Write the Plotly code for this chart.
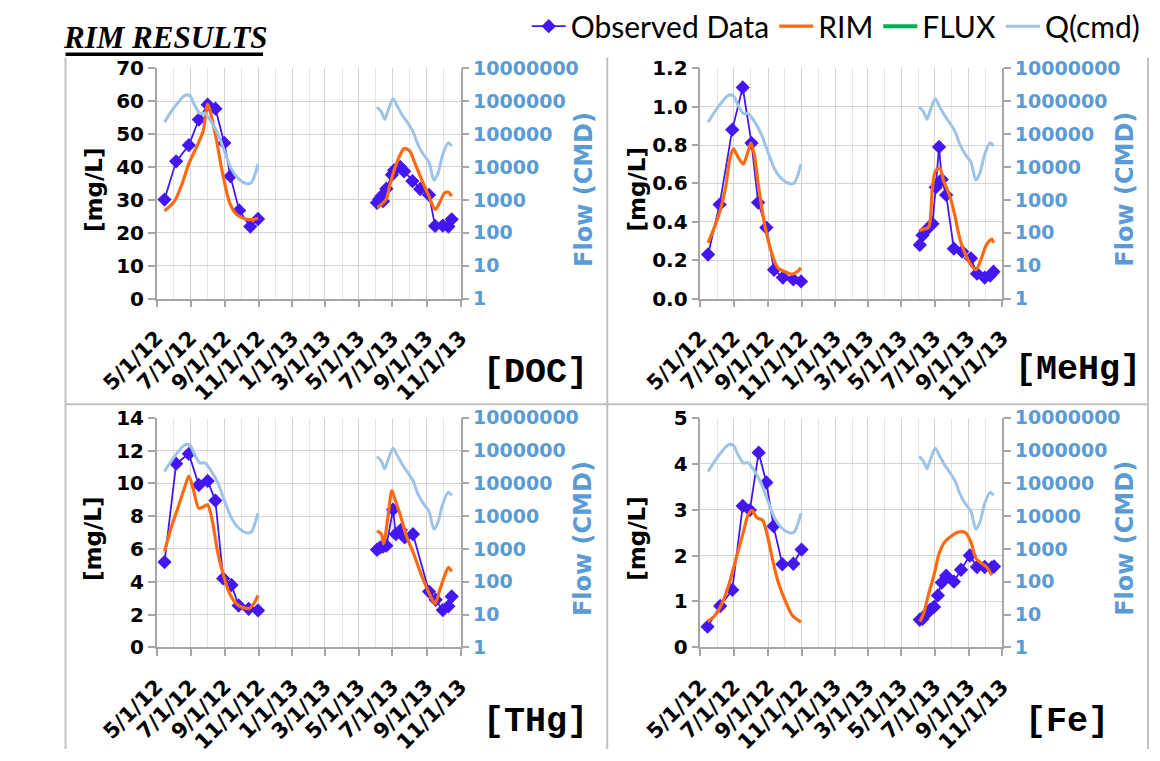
import plotly.graph_objects as go

W, H = 1160, 761

# ---------------------------------------------------------------------------
# Data
# ---------------------------------------------------------------------------
# Flow record (cubic metres per day), shared by all four panels
Q_DATES = ["2012-05-15", "2012-06-02", "2012-06-21", "2012-06-30", "2012-07-08", "2012-07-18",
           "2012-07-27", "2012-08-06", "2012-08-19", "2012-08-31", "2012-09-13", "2012-09-25",
           "2012-10-08", "2012-10-18", "2012-10-24", "2012-10-31", None,
           "2013-06-03", "2013-06-11", "2013-06-17", "2013-06-23", "2013-07-02", "2013-07-09",
           "2013-07-19", "2013-07-29", "2013-08-07", "2013-08-16", "2013-08-26", "2013-09-05",
           "2013-09-14", "2013-09-21", "2013-09-30", "2013-10-10", "2013-10-16"]
Q_CMD = [2.3e5, 6.6e5, 1.5e6, 1.45e6, 7.8e5, 4.2e5,
         4.2e5, 2.6e5, 1.07e5, 3.1e4, 8.7e3, 4.5e3,
         3.2e3, 3.2e3, 5.0e3, 1.23e4, None,
         6.6e5, 4.7e5, 2.8e5, 5.2e5, 1.17e6, 7.4e5,
         3.7e5, 2.1e5, 1.2e5, 4.8e4, 2.4e4, 1.4e4,
         4.0e3, 6.3e3, 2.4e4, 5.4e4, 4.3e4]

# DOC
DOC_OBS_DATES = ["2012-05-15", "2012-06-05", "2012-06-28", "2012-07-16", "2012-08-01", "2012-08-15",
                 "2012-08-31", "2012-09-11", "2012-09-27", "2012-10-17", "2012-10-31", None,
                 "2013-06-03", "2013-06-07", "2013-06-11", "2013-06-14", "2013-06-20", "2013-06-30",
                 "2013-07-04", "2013-07-15", "2013-07-22", "2013-08-06", "2013-08-20", "2013-09-05",
                 "2013-09-16", "2013-09-30", "2013-10-10", "2013-10-16"]
DOC_OBS = [30.1, 41.7, 46.6, 54.4, 58.9, 57.7, 47.3, 37.2, 26.8, 21.9, 24.2, None,
           29.1, 30.2, 31.1, 29.6, 33.4, 37.6, 39.0, 40.0, 38.7, 35.7, 33.3, 31.5,
           22.1, 22.2, 21.9, 24.1]
DOC_RIM_DATES = ["2012-05-15", "2012-06-02", "2012-06-15", "2012-06-28", "2012-07-14", "2012-07-24",
                 "2012-08-01", "2012-08-15", "2012-08-28", "2012-09-10", "2012-09-22", "2012-10-08",
                 "2012-10-21", "2012-10-31", None,
                 "2013-06-04", "2013-06-14", "2013-06-20", "2013-06-27", "2013-07-06", "2013-07-16",
                 "2013-07-22", "2013-08-01", "2013-08-10", "2013-08-23", "2013-09-05", "2013-09-16",
                 "2013-09-24", "2013-10-03", "2013-10-10", "2013-10-16"]
DOC_RIM = [26.6, 29.6, 34.5, 41.0, 46.8, 51.0, 59.0, 49.8, 38.0, 29.0, 25.6, 24.2, 24.0, 24.4, None,
           27.6, 29.1, 30.3, 35.0, 40.0, 44.1, 45.6, 44.9, 41.4, 36.0, 31.1, 27.1,
           29.1, 32.1, 32.3, 31.1]

# MeHg
MEHG_OBS_DATES = ["2012-05-15", "2012-06-05", "2012-06-28", "2012-07-17", "2012-08-02", "2012-08-14",
                  "2012-08-29", "2012-09-12", "2012-09-28", "2012-10-17", "2012-10-31", None,
                  "2013-06-04", "2013-06-09", "2013-06-15", "2013-06-27", "2013-07-03", "2013-07-09",
                  "2013-07-14", "2013-07-22", "2013-08-05", "2013-08-20", "2013-09-05", "2013-09-16",
                  "2013-09-30", "2013-10-10", "2013-10-16"]
MEHG_OBS = [0.23, 0.49, 0.88, 1.10, 0.81, 0.50, 0.37, 0.15, 0.11, 0.10, 0.09, None,
            0.28, 0.33, 0.355, 0.39, 0.58, 0.79, 0.62, 0.54, 0.26, 0.245, 0.21, 0.13,
            0.11, 0.12, 0.14]
MEHG_RIM_DATES = ["2012-05-15", "2012-06-03", "2012-06-16", "2012-06-23", "2012-06-30", "2012-07-08",
                  "2012-07-18", "2012-07-25", "2012-08-01", "2012-08-07", "2012-08-15", "2012-08-25",
                  "2012-09-07", "2012-09-19", "2012-10-02", "2012-10-15", "2012-10-24", "2012-10-31", None,
                  "2013-06-04", "2013-06-12", "2013-06-20", "2013-06-27", "2013-07-03", "2013-07-11",
                  "2013-07-17", "2013-07-29", "2013-08-07", "2013-08-17", "2013-09-02", "2013-09-14",
                  "2013-09-24", "2013-10-03", "2013-10-13", "2013-10-16"]
MEHG_RIM = [0.29, 0.43, 0.58, 0.72, 0.78, 0.74, 0.70, 0.75, 0.81, 0.75, 0.58, 0.40,
            0.245, 0.16, 0.14, 0.127, 0.14, 0.16, None,
            0.355, 0.363, 0.372, 0.58, 0.667, 0.676, 0.617, 0.53, 0.43, 0.30, 0.19, 0.15,
            0.21, 0.28, 0.31, 0.29]

# THg
THG_OBS_DATES = ["2012-05-15", "2012-06-05", "2012-06-28", "2012-07-16", "2012-08-01", "2012-08-15",
                 "2012-08-29", "2012-09-13", "2012-09-26", "2012-10-14", "2012-10-31", None,
                 "2013-06-03", "2013-06-09", "2013-06-14", "2013-06-20", "2013-07-02", "2013-07-07",
                 "2013-07-16", "2013-07-23", "2013-08-07", "2013-09-05", "2013-09-17", "2013-09-30",
                 "2013-10-10", "2013-10-16"]
THG_OBS = [5.2, 11.2, 11.8, 9.9, 10.15, 8.95, 4.2, 3.8, 2.55, 2.35, 2.25, None,
           5.95, 6.1, 6.15, 6.2, 8.4, 6.9, 7.15, 6.7, 6.9, 3.4, 2.9, 2.27,
           2.5, 3.1]
THG_RIM_DATES = ["2012-05-15", "2012-05-28", "2012-06-09", "2012-06-22", "2012-06-28", "2012-07-06",
                 "2012-07-16", "2012-07-24", "2012-08-01", "2012-08-09", "2012-08-19", "2012-08-30",
                 "2012-09-10", "2012-09-22", "2012-10-05", "2012-10-15", "2012-10-24", "2012-10-31", None,
                 "2013-06-03", "2013-06-11", "2013-06-15", "2013-06-23", "2013-06-30", "2013-07-06",
                 "2013-07-15", "2013-07-26", "2013-08-07", "2013-08-23", "2013-09-06", "2013-09-16",
                 "2013-09-24", "2013-10-03", "2013-10-10", "2013-10-16"]
THG_RIM = [5.86, 7.4, 8.58, 9.92, 10.45, 9.66, 8.48, 8.58, 8.68, 7.79, 5.82, 4.34,
           3.25, 2.66, 2.41, 2.37, 2.7, 3.16, None,
           7.1, 6.9, 6.31, 7.99, 9.56, 8.97, 8.09, 6.8, 5.82, 4.34, 3.25, 2.66,
           3.45, 4.34, 4.87, 4.63]

# Fe
FE_OBS_DATES = ["2012-05-14", "2012-06-06", "2012-06-28", "2012-07-17", "2012-07-30", "2012-08-15",
                "2012-08-29", "2012-09-11", "2012-09-27", "2012-10-17", "2012-11-01", None,
                "2013-06-04", "2013-06-09", "2013-06-17", "2013-06-23", "2013-06-30", "2013-07-07",
                "2013-07-14", "2013-07-22", "2013-08-05", "2013-08-18", "2013-09-03", "2013-09-16",
                "2013-09-30", "2013-10-13", "2013-10-17"]
FE_OBS = [0.45, 0.90, 1.25, 3.08, 2.99, 4.24, 3.59, 2.64, 1.81, 1.82, 2.13, None,
          0.60, 0.62, 0.74, 0.82, 0.88, 1.13, 1.41, 1.56, 1.43, 1.69, 2.0, 1.75,
          1.75, 1.74, 1.76]
FE_RIM_DATES = ["2012-05-14", "2012-05-28", "2012-06-09", "2012-06-22", "2012-07-05", "2012-07-18",
                "2012-07-27", "2012-08-03", "2012-08-12", "2012-08-22", "2012-08-31", "2012-09-10",
                "2012-09-19", "2012-10-02", "2012-10-15", "2012-10-31", None,
                "2013-06-04", "2013-06-11", "2013-06-20", "2013-06-30", "2013-07-09", "2013-07-19",
                "2013-08-01", "2013-08-13", "2013-08-26", "2013-09-05", "2013-09-14", "2013-09-24",
                "2013-10-03", "2013-10-13"]
FE_RIM = [0.56, 0.70, 0.95, 1.37, 1.94, 2.5, 2.89, 2.98, 2.82, 2.77, 2.43, 1.87,
          1.44, 1.02, 0.70, 0.55, None,
          0.56, 0.74, 1.16, 1.58, 2.04, 2.29, 2.43, 2.51, 2.5, 2.29, 1.94, 1.83,
          1.76, 1.57]

# Axis tick labels
FLOW_TICKVALS = [1, 10, 100, 1000, 10000, 100000, 1000000, 10000000]
FLOW_TICKTEXT = ["1", "10", "100", "1000", "10000", "100000", "1000000", "10000000"]
DATE_RANGE = ["2012-05-01", "2013-11-01"]

LEGEND_NAMES = ["Observed Data", "RIM", "FLUX", "Q(cmd)"]

# ---------------------------------------------------------------------------
# Styling
# ---------------------------------------------------------------------------
OBS_COLOR = "#4416F2"
RIM_COLOR = "#FF6A10"
FLUX_COLOR = "#00B050"
Q_COLOR = "#9DC3E6"
FLOW_TEXT = "#5B9BD5"
AXIS_COLOR = "#A6A6A6"
GRID_COLOR = "#D4D4D4"
GRID_MINOR = "#E6E6E6"
BORDER = "#C0C0C0"
TICK_FONT = dict(family="DejaVu Sans", size=20, color="black", weight="bold")
DATE_FONT = dict(family="DejaVu Sans", size=21, color="black", weight="bold")


def px(x):
    return x / W


def py(y):
    return 1 - y / H


# plot areas in pixels: (left, right, top, bottom)
PANELS = [
    dict(label="[DOC]", obs=(DOC_OBS_DATES, DOC_OBS), rim=(DOC_RIM_DATES, DOC_RIM),
         yr=[0, 70], dt=10, fmt="d", box=(105, 428, 58, 296), lab=(508, 373)),
    dict(label="[MeHg]", obs=(MEHG_OBS_DATES, MEHG_OBS), rim=(MEHG_RIM_DATES, MEHG_RIM),
         yr=[0, 1.2], dt=0.2, fmt=".1f", box=(683, 1004, 58, 296), lab=(1085, 370)),
    dict(label="[THg]", obs=(THG_OBS_DATES, THG_OBS), rim=(THG_RIM_DATES, THG_RIM),
         yr=[0, 14], dt=2, fmt="d", box=(105, 428, 419, 656), lab=(508, 733)),
    dict(label="[Fe]", obs=(FE_OBS_DATES, FE_OBS), rim=(FE_RIM_DATES, FE_RIM),
         yr=[0, 5], dt=1, fmt="d", box=(683, 1004, 419, 656), lab=(1073, 733)),
]

fig = go.Figure()
annotations = []
shapes = []

for i, p in enumerate(PANELS):
    xid = "x" if i == 0 else f"x{i + 1}"
    yid = "y" if i == 0 else f"y{2 * i + 1}"
    y2id = f"y{2 * i + 2}"
    first = i == 0

    fig.add_trace(go.Scatter(
        x=p["obs"][0], y=p["obs"][1], name=LEGEND_NAMES[0], legendgroup="obs",
        showlegend=first, mode="lines+markers", xaxis=xid, yaxis=yid,
        line=dict(color=OBS_COLOR, width=1.8),
        marker=dict(symbol="diamond", size=11, color=OBS_COLOR)))
    fig.add_trace(go.Scatter(
        x=p["rim"][0], y=p["rim"][1], name=LEGEND_NAMES[1], legendgroup="rim",
        showlegend=first, mode="lines", xaxis=xid, yaxis=yid,
        line=dict(color=RIM_COLOR, width=3.2, shape="spline", smoothing=0.8)))
    if first:
        fig.add_trace(go.Scatter(
            x=[None], y=[None], name=LEGEND_NAMES[2], legendgroup="flux",
            mode="lines", xaxis=xid, yaxis=yid,
            line=dict(color=FLUX_COLOR, width=4)))
    fig.add_trace(go.Scatter(
        x=Q_DATES, y=Q_CMD, name=LEGEND_NAMES[3], legendgroup="q",
        showlegend=first, mode="lines", xaxis=xid, yaxis=y2id,
        line=dict(color=Q_COLOR, width=3, shape="spline", smoothing=0.8)))

    left, right, top, bottom = p["box"]
    xdom = [px(left), px(right)]
    ydom = [py(bottom), py(top)]

    xkey = "xaxis" if i == 0 else f"xaxis{i + 1}"
    ykey = "yaxis" if i == 0 else f"yaxis{2 * i + 1}"
    y2key = f"yaxis{2 * i + 2}"

    fig.layout[xkey] = dict(
        domain=xdom, anchor=yid, type="date", range=DATE_RANGE,
        tick0="2012-05-01", dtick="M2", tickformat="%-m/%-d/%y", tickangle=-45,
        showline=True, linecolor=AXIS_COLOR, linewidth=1.5,
        ticks="outside", ticklen=7, tickcolor=AXIS_COLOR, tickwidth=1.5,
        ticklabelstandoff=10,
        showgrid=True, gridcolor=GRID_COLOR, gridwidth=1,
        minor=dict(dtick="M1", showgrid=True, gridcolor=GRID_MINOR, gridwidth=1, ticks=""),
        tickfont=DATE_FONT, zeroline=False, fixedrange=True)
    fig.layout[ykey] = dict(
        domain=ydom, anchor=xid, range=p["yr"], dtick=p["dt"], tick0=0,
        tickformat=p["fmt"], showline=True, linecolor=AXIS_COLOR, linewidth=1.5,
        ticks="outside", ticklen=7, tickcolor=AXIS_COLOR, tickwidth=1.5,
        showgrid=True, gridcolor=GRID_COLOR, gridwidth=1, zeroline=False,
        tickfont=TICK_FONT, fixedrange=True)
    fig.layout[y2key] = dict(
        overlaying=yid, anchor=xid, side="right", type="log", range=[0, 7],
        tickvals=FLOW_TICKVALS, ticktext=FLOW_TICKTEXT,
        showline=True, linecolor=AXIS_COLOR, linewidth=1.5,
        ticks="outside", ticklen=7, tickcolor=AXIS_COLOR, tickwidth=1.5,
        showgrid=False, zeroline=False,
        tickfont=dict(family="DejaVu Sans", size=19, color=FLOW_TEXT, weight="bold"),
        fixedrange=True)

    # axis titles
    annotations.append(dict(
        text="[mg/L]", x=px(left - 67), y=py((top + bottom) / 2 + 6), xref="paper", yref="paper",
        showarrow=False, textangle=-90, xanchor="center", yanchor="middle",
        font=dict(family="DejaVu Sans", size=23, color="black", weight="bold")))
    annotations.append(dict(
        text="Flow (CMD)", x=px(right + 131), y=py((top + bottom) / 2 + 6), xref="paper", yref="paper",
        showarrow=False, textangle=-90, xanchor="center", yanchor="middle",
        font=dict(family="DejaVu Sans", size=24, color=FLOW_TEXT, weight="bold")))
    # panel label
    annotations.append(dict(
        text=p["label"], x=px(p["lab"][0]), y=py(p["lab"][1]), xref="paper", yref="paper",
        showarrow=False, xanchor="center", yanchor="middle",
        font=dict(family="Liberation Mono", size=35, color="black", weight="bold")))

# title with underline
annotations.append(dict(
    text="<b><i>RIM RESULTS</i></b>", x=px(3), y=py(26), xref="paper", yref="paper",
    showarrow=False, xanchor="left", yanchor="middle",
    font=dict(family="Liberation Serif", size=31, color="black")))
shapes.append(dict(type="line", xref="paper", yref="paper",
                   x0=px(8), x1=px(218), y0=py(43.5), y1=py(43.5),
                   line=dict(color="black", width=3.5)))

# panel frame lines
for xv in (8, 584, 1159):
    shapes.append(dict(type="line", xref="paper", yref="paper",
                       x0=px(xv), x1=px(xv), y0=py(47), y1=py(H),
                       line=dict(color=BORDER, width=2)))
shapes.append(dict(type="line", xref="paper", yref="paper",
                   x0=px(8), x1=px(1159), y0=py(405), y1=py(405),
                   line=dict(color=BORDER, width=2)))

fig.update_layout(
    width=W, height=H,
    margin=dict(l=0, r=0, t=0, b=0),
    paper_bgcolor="white", plot_bgcolor="white",
    showlegend=True,
    legend=dict(orientation="h", x=0.997, xanchor="right", y=1.016, yanchor="top",
                font=dict(family="Lato", size=30, color="black"),
                bgcolor="rgba(0,0,0,0)", itemwidth=34, tracegroupgap=0),
    annotations=annotations,
    shapes=shapes,
)

fig.write_html("out.html")
